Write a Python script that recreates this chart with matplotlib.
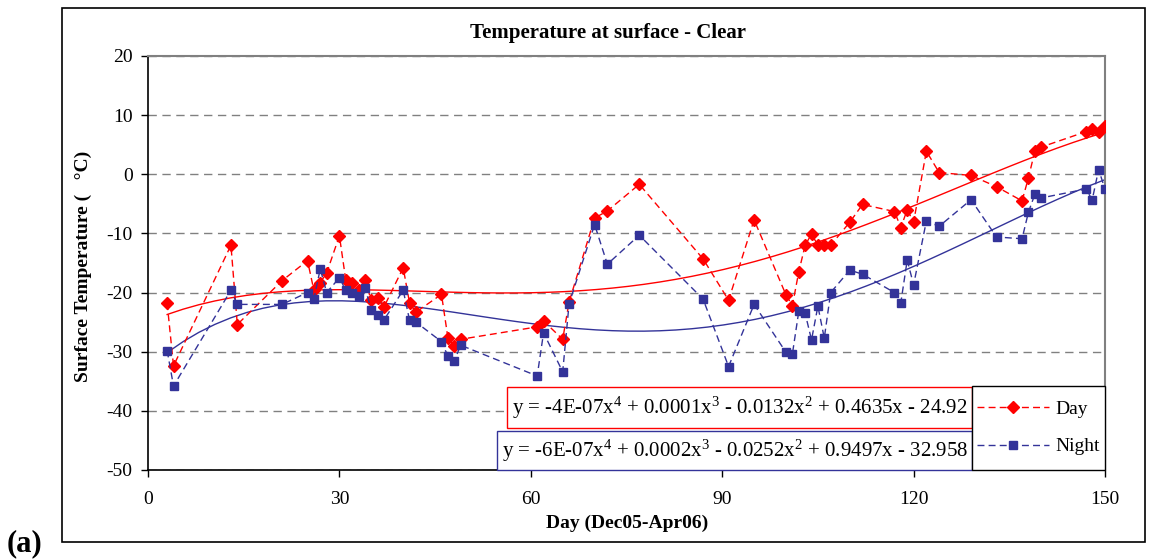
import numpy as np
import matplotlib.pyplot as plt
from matplotlib.patches import Rectangle
from matplotlib.lines import Line2D

plt.rcParams['font.family'] = ['Liberation Serif', 'DejaVu Serif']
plt.rcParams['mathtext.fontset'] = 'custom'
plt.rcParams['mathtext.rm'] = 'Liberation Serif'
plt.rcParams['mathtext.it'] = 'Liberation Serif:italic'
plt.rcParams['axes.unicode_minus'] = False

# day number (Dec05-Apr06)
days = [3, 4, 13, 14, 21, 25, 26, 27, 28, 30, 31, 32, 33, 34, 35, 36, 37, 40, 41, 42,
        46, 47, 48, 49, 61, 62, 65, 66, 70, 72, 77, 87, 91, 95, 100, 101, 102, 103, 104, 105,
        106, 107, 110, 112, 117, 118, 119, 120, 122, 124, 129, 133, 137, 138, 139, 140,
        147, 148, 149, 150]

temp_day = [-21.8, -32.4, -12.0, -25.4, -18.0, -14.6, -19.6, -18.3, -16.7, -10.4,
            -17.9, -18.3, -19.6, -17.9, -21.3, -20.9, -22.4, -15.8, -21.8, -23.3,
            -20.3, -27.6, -29.0, -27.9, -25.8, -24.8, -27.9, -21.6, -7.4, -6.2,
            -1.7, -14.3, -21.3, -7.7, -20.4, -22.2, -16.5, -12.0, -10.1, -12.0,
            -12.0, -12.0, -8.1, -5.1, -6.3, -9.0, -6.0, -8.1, 3.9, 0.3,
            -0.2, -2.1, -4.5, -0.6, 3.9, 4.6, 7.2, 7.7, 7.2, 8.2]

temp_night = [-29.8, -35.8, -19.6, -22.0, -22.0, -20.0, -21.1, -16.0, -20.0, -17.5,
              -19.6, -20.1, -20.5, -19.2, -22.9, -23.8, -24.6, -19.6, -24.7, -25.0,
              -28.3, -30.7, -31.6, -28.9, -34.1, -26.8, -33.4, -21.9, -8.5, -15.2,
              -10.3, -21.1, -32.5, -22.0, -30.1, -30.4, -23.2, -23.5, -28.0, -22.3,
              -27.7, -20.0, -16.2, -16.9, -20.0, -21.7, -14.5, -18.7, -7.9, -8.8,
              -4.3, -10.6, -10.9, -6.4, -3.4, -4.0, -2.5, -4.3, 0.8, -2.5]

eq_day = r'y = -4E-07x$^{4}$ + 0.0001x$^{3}$ - 0.0132x$^{2}$ + 0.4635x - 24.92'
eq_night = r'y = -6E-07x$^{4}$ + 0.0002x$^{3}$ - 0.0252x$^{2}$ + 0.9497x - 32.958'

red = '#FF0000'
blue = '#333399'

fig = plt.figure(figsize=(11.49, 5.6), dpi=100)
ax = fig.add_axes([148/1149, 90/560, 957/1149, 414/560])

ax.plot(days, temp_day, color=red, ls=(0, (5, 3)), lw=1, marker='D', ms=6.5,
        mfc=red, mec=red, zorder=3)
ax.plot(days, temp_night, color=blue, ls=(0, (5, 3)), lw=1, marker='s', ms=5.5,
        mfc=blue, mec=blue, zorder=3)

# 4th order polynomial trend lines
xx = np.linspace(min(days), max(days), 60)
ax.plot(xx, np.polyval(np.polyfit(days, temp_day, 4), xx), color=red, lw=1)
ax.plot(xx, np.polyval(np.polyfit(days, temp_night, 4), xx), color=blue, lw=1)

ax.set_xlim(0, 150)
ax.set_ylim(-50, 20)
ax.set_xticks(range(0, 151, 30))
ax.set_yticks(range(-50, 21, 10))
ax.yaxis.grid(True, color='#808080', ls=(0, (6, 4)), lw=1)
ax.set_axisbelow(True)
ax.tick_params(axis='both', direction='out', length=5, width=1, labelsize=14)
ax.tick_params(axis='y', pad=6)
ax.tick_params(axis='x', pad=10)
for s in ['top', 'right']:
    ax.spines[s].set_color('#808080')
    ax.spines[s].set_linewidth(1.5)
for s in ['left', 'bottom']:
    ax.spines[s].set_color('black')
    ax.spines[s].set_linewidth(1.2)

# equation boxes
ax.add_patch(Rectangle((0.3751, 0.1014), 0.861 - 0.3751, 0.0991, transform=ax.transAxes,
                       fill=True, fc='white', ec=red, lw=1, zorder=4, clip_on=False))
ax.add_patch(Rectangle((0.3647, 0.0), 0.861 - 0.3647, 0.0942, transform=ax.transAxes,
                       fill=True, fc='white', ec=blue, lw=1, zorder=4, clip_on=False))
ax.text(0.618, 0.151, eq_day, transform=ax.transAxes, ha='center', va='center',
        fontsize=15, zorder=5)
ax.text(0.613, 0.047, eq_night, transform=ax.transAxes, ha='center', va='center',
        fontsize=15, zorder=5)

# legend
ax.add_patch(Rectangle((0.861, 0.0), 0.139, 0.2029, transform=ax.transAxes,
                       fill=True, fc='white', ec='black', lw=1, zorder=4, clip_on=False))
handles = [Line2D([], [], color=red, ls=(0, (5, 3)), lw=1, marker='D', ms=6),
           Line2D([], [], color=blue, ls=(0, (5, 3)), lw=1, marker='s', ms=5.5)]
leg = ax.legend(handles, ['Day', 'Night'], loc='center left',
                bbox_to_anchor=(0.862, 0.1015), frameon=False, fontsize=14,
                handlelength=3.7, handletextpad=0.35, labelspacing=1.0,
                borderaxespad=0, borderpad=0.2, numpoints=1)
leg.set_zorder(6)

fig.text(608/1149, 1 - 33/560, 'Temperature at surface - Clear', ha='center',
         va='center', fontsize=15, fontweight='bold')
fig.text(83/1149, 1 - 266/560, 'Surface Temperature (   °C)', rotation=90,
         ha='center', va='center', fontsize=14, fontweight='bold')
fig.text(627/1149, 1 - 523/560, 'Day (Dec05-Apr06)', ha='center', va='center',
         fontsize=14, fontweight='bold')
fig.text(7/1149, 1 - 544/560, '(a)', ha='left', va='center', fontsize=22,
         fontweight='bold')

fig.add_artist(Rectangle((62/1149, 1 - 542/560), (1145 - 62)/1149, (542 - 8)/560,
                         transform=fig.transFigure, fill=False, ec='black', lw=1.2))

fig.savefig('out.png', dpi=100)
